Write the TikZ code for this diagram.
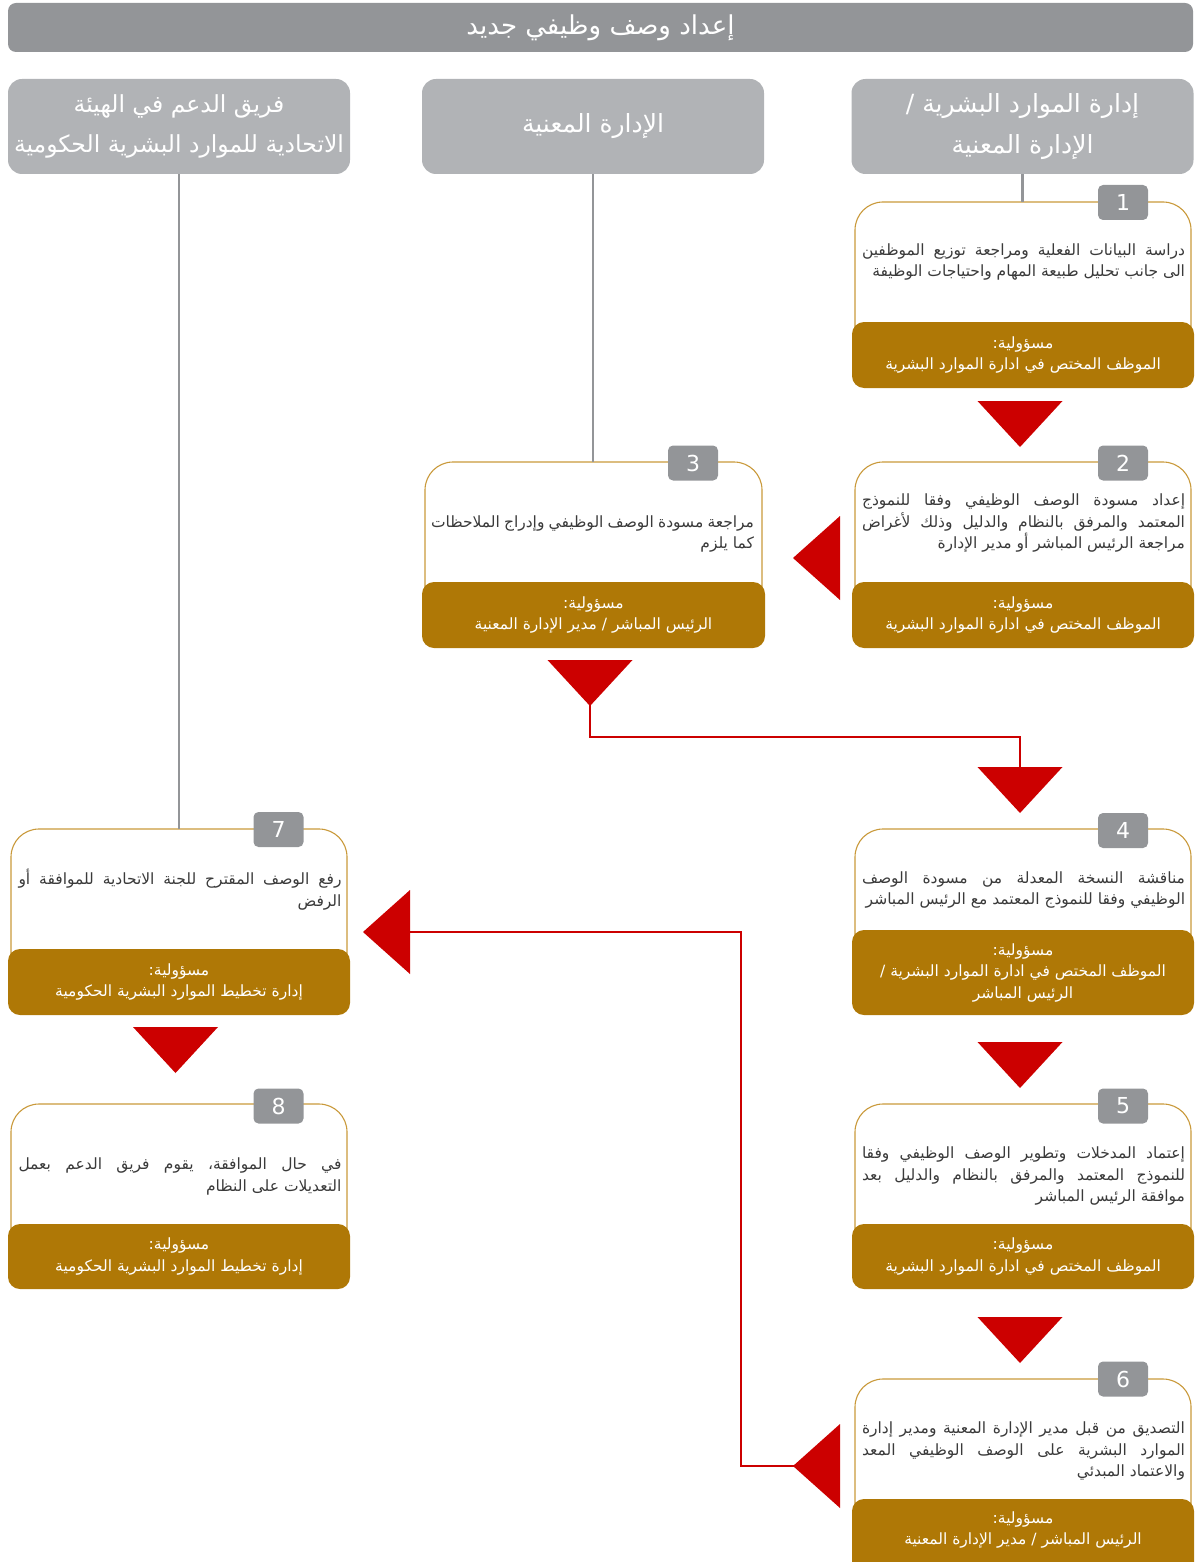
\documentclass[tikz,border=0pt]{standalone}
\usepackage{fontspec}
\setmainfont{DejaVu Sans}
\newfontfamily\arabicfont[Script=Arabic]{DejaVu Sans}
\TeXXeTstate=1
\definecolor{titlegray}{HTML}{939598}
\definecolor{headgray}{HTML}{B1B3B6}
\definecolor{badgegray}{HTML}{939598}
\definecolor{respbrown}{HTML}{AF7806}
\definecolor{outlinegold}{HTML}{C9993A}
\definecolor{redc}{HTML}{CC0000}
\definecolor{bodygray}{HTML}{3A3A3A}
\newlength\bw
\setlength\bw{323pt}
\newcommand\AR[1]{\beginR #1\endR}
\newcommand\JL[1]{\hbox to \bw{\beginR #1\endR}}
\newcommand\LL[1]{\hbox to \bw{\hfill\beginR #1\endR}}
\begin{document}
\begin{tikzpicture}[x=1pt,y=-1pt,
  titlebar/.style={fill=titlegray, rounded corners=8, minimum width=1185, minimum height=49, inner sep=0, text=white, font=\arabicfont\fontsize{26}{30}\selectfont},
  headbox/.style={fill=headgray, rounded corners=14, minimum width=342, minimum height=95, inner sep=0, text=white, align=center, font=\arabicfont\fontsize{25}{41}\selectfont},
  respbox/.style={fill=respbrown, rounded corners=12, minimum width=342, inner sep=0, text=white, align=center, font=\arabicfont\fontsize{15.5}{21.5}\selectfont},
  resptext/.style={inner sep=0, text=white, align=center, font=\arabicfont\fontsize{15.5}{21.5}\selectfont},
  bodytext/.style={inner sep=0, text=bodygray, font=\arabicfont\fontsize{15.5}{21.8}\selectfont},
  outline/.style={draw=outlinegold, line width=1.1, rounded corners=28},
  badge/.style={fill=badgegray, rounded corners=5, minimum width=50, minimum height=35, inner sep=0, text=white, font=\fontsize{22}{24}\selectfont},
  gline/.style={draw=titlegray, line width=2.5},
  rline/.style={draw=redc, line width=2},
  downtri/.pic={\fill[redc] (-42.5,0) -- (42.5,0) -- (0,46) -- cycle;},
  lefttri/.pic={\fill[redc] (0,0) -- (47,-42) -- (47,42) -- cycle;}
]
\useasboundingbox (0,0) rectangle (1196,1562);

% title
\node[titlebar] (title) at (600.5,27.5) {\AR{إعداد وصف وظيفي جديد}};

% headers
\node[headbox] (hR) at (1022.5,126.5) {\AR{إدارة الموارد البشرية /}\\\AR{الإدارة المعنية}};
\node[headbox] (hM) at (593,126.5) {\AR{الإدارة المعنية}};
\node[headbox, font=\arabicfont\fontsize{23.5}{40}\selectfont] (hL) at (179,126.5) {\AR{فريق الدعم في الهيئة}\\\AR{الاتحادية للموارد البشرية الحكومية}};

% box top coordinates
\coordinate (o1) at (1022.5,202);
\coordinate (o2) at (1022.5,462);
\coordinate (o3) at (593,462);
\coordinate (o4) at (1022.5,829);
\coordinate (o5) at (1022.5,1104);
\coordinate (o6) at (1022.5,1379);
\coordinate (o7) at (179,829);
\coordinate (o8) at (179,1104);

% outlines
\draw[outline] (855,340) |- (1191,202) -- (1191,340);
\draw[outline] (855,600) |- (1191,462) -- (1191,600);
\draw[outline] (425,600) |- (762,462) -- (762,600);
\draw[outline] (855,950) |- (1191,829) -- (1191,950);
\draw[outline] (855,1240) |- (1191,1104) -- (1191,1240);
\draw[outline] (855,1515) |- (1191,1379) -- (1191,1515);
\draw[outline] (11,965) |- (347,829) -- (347,965);
\draw[outline] (11,1240) |- (347,1104) -- (347,1240);

% gray connectors
\draw[gline] (hR.south) -- (o1);
\draw[gline] (hM.south) -- (o3);
\draw[gline] (hL.south) -- (o7);

% badges
\node[badge] (n1) at (1123,202.5) {1};
\node[badge] (n2) at (1123,463) {2};
\node[badge] (n3) at (693,463) {3};
\node[badge] (n4) at (1123,830.5) {4};
\node[badge] (n5) at (1123,1106) {5};
\node[badge] (n6) at (1123,1379) {6};
\node[badge] (n7) at (278.5,829.5) {7};
\node[badge] (n8) at (278.5,1106) {8};

% body texts
\node[bodytext] (t1) at (1023.5,262) {\vbox{%
  \JL{دراسة البيانات الفعلية ومراجعة توزيع الموظفين}
  \LL{الى جانب تحليل طبيعة المهام واحتياجات الوظيفة}}};
\node[bodytext] (t2) at (1023.5,523) {\vbox{%
  \JL{إعداد مسودة الوصف الوظيفي وفقا للنموذج}
  \JL{المعتمد والمرفق بالنظام والدليل وذلك لأغراض}
  \LL{مراجعة الرئيس المباشر أو مدير الإدارة}}};
\node[bodytext] (t3) at (592.5,534) {\vbox{%
  \JL{مراجعة مسودة الوصف الوظيفي وإدراج الملاحظات}
  \LL{كما يلزم}}};
\node[bodytext] (t4) at (1023.5,890) {\vbox{%
  \JL{مناقشة النسخة المعدلة من مسودة الوصف}
  \LL{الوظيفي وفقا للنموذج المعتمد مع الرئيس المباشر}}};
\node[bodytext] (t5) at (1023.5,1176) {\vbox{%
  \JL{إعتماد المدخلات وتطوير الوصف الوظيفي وفقا}
  \JL{للنموذج المعتمد والمرفق بالنظام والدليل بعد}
  \LL{موافقة الرئيس المباشر}}};
\node[bodytext] (t6) at (1023.5,1451) {\vbox{%
  \JL{التصديق من قبل مدير الإدارة المعنية ومدير إدارة}
  \JL{الموارد البشرية على الوصف الوظيفي المعد}
  \LL{والاعتماد المبدئي}}};
\node[bodytext] (t7) at (180,890) {\vbox{%
  \JL{رفع الوصف المقترح للجنة الاتحادية للموافقة أو}
  \LL{الرفض}}};
\node[bodytext] (t8) at (180,1176.5) {\vbox{%
  \JL{في حال الموافقة، يقوم فريق الدعم بعمل}
  \LL{التعديلات على النظام}}};

% responsibility boxes
\node[respbox, minimum height=66] (r1) at (1023,355) {\AR{مسؤولية:}\\\AR{الموظف المختص في ادارة الموارد البشرية}};
\node[respbox, minimum height=66] (r2) at (1023,615) {\AR{مسؤولية:}\\\AR{الموظف المختص في ادارة الموارد البشرية}};
\node[respbox, minimum height=66, minimum width=343] (r3) at (593.5,615) {\AR{مسؤولية:}\\\AR{الرئيس المباشر / مدير الإدارة المعنية}};
\node[respbox, minimum height=85] (r4) at (1023,972.5) {\AR{مسؤولية:}\\\AR{الموظف المختص في ادارة الموارد البشرية /}\\\AR{الرئيس المباشر}};
\node[respbox, minimum height=65] (r5) at (1023,1256.5) {\AR{مسؤولية:}\\\AR{الموظف المختص في ادارة الموارد البشرية}};
\fill[respbrown, rounded corners=12] (852,1590) rectangle (1194,1499);
\node[resptext] (r6) at (1023,1530) {\AR{مسؤولية:}\\\AR{الرئيس المباشر / مدير الإدارة المعنية}};
\node[respbox, minimum height=66] (r7) at (179,982) {\AR{مسؤولية:}\\\AR{إدارة تخطيط الموارد البشرية الحكومية}};
\node[respbox, minimum height=65] (r8) at (179,1256.5) {\AR{مسؤولية:}\\\AR{إدارة تخطيط الموارد البشرية الحكومية}};

% red arrows
\pic at (1020,401) {downtri};
\pic at (793,558) {lefttri};
\pic at (590,660) {downtri};
\coordinate (a3) at (590,705);
\pic at (1020,767) {downtri};
\coordinate (b4) at (1020,768);
\draw[rline] (a3) -- ++(0,32) -| (b4);
\pic at (1020,1042) {downtri};
\pic at (1020,1317) {downtri};
\pic at (793,1466) {lefttri};
\coordinate (a6) at (794,1466);
\pic at (363,932) {lefttri};
\coordinate (b7) at (409,932);
\draw[rline] (a6) -- ++(-53,0) |- (b7);
\pic at (175.5,1027) {downtri};
\end{tikzpicture}
\end{document}
